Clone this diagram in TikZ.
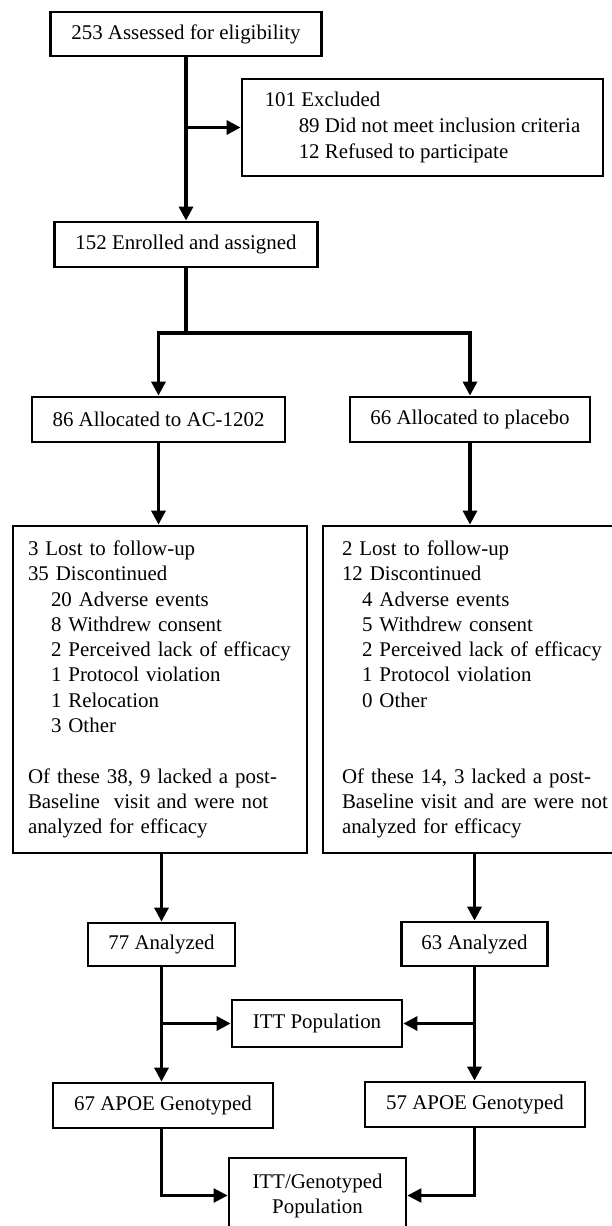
\documentclass[tikz,border=0pt]{standalone}
\usepackage{fontspec}
\setmainfont{Liberation Serif}
\usetikzlibrary{arrows.meta}

\begin{document}
\begin{tikzpicture}[x=1pt,y=-1pt,
    box/.style={draw, line width=2.8pt, inner sep=0pt, align=center,
      font=\fontsize{20.9}{25}\selectfont},
    listbox/.style={draw, line width=2.8pt, align=left, inner ysep=0pt,
      font=\fontsize{20.9}{25.3}\selectfont},
    flow/.style={line width=3.2pt, -{Triangle[length=14pt,width=14pt]}},
    thinflow/.style={line width=2.4pt, -{Triangle[length=14pt,width=14pt]}}]
  \useasboundingbox (0,0) rectangle (611,1226);

  % Screening
  \node[box, minimum width=271pt, minimum height=44pt] (assess) at (186,34) {253 Assessed for eligibility};
  \node[box, align=left, minimum width=361pt, minimum height=97pt,
    font=\fontsize{20.9}{26}\selectfont] (excl) at (422.5,127.5)
    {101 Excluded\\\hspace*{34pt}89 Did not meet inclusion criteria\\\hspace*{34pt}12 Refused to participate};
  \node[box, minimum width=263pt, minimum height=45pt] (enrol) at (186,244.5) {152 Enrolled and assigned};

  % Allocation
  \node[box, minimum width=253pt, minimum height=45pt] (allocA) at (158.5,419.5) {86 Allocated to AC-1202};
  \node[box, minimum width=240pt, minimum height=45pt] (allocP) at (470,419.5) {66 Allocated to placebo};

  % Follow-up
  \node[listbox, text width=264pt, inner xsep=15pt, minimum height=327pt] (lostA) at (160,689.5)
    {3 Lost to follow-up\\
     35 Discontinued\\
     \hspace*{23pt}20 Adverse events\\
     \hspace*{23pt}8 Withdrew consent\\
     \hspace*{23pt}2 Perceived lack of efficacy\\
     \hspace*{23pt}1 Protocol violation\\
     \hspace*{23pt}1 Relocation\\
     \hspace*{23pt}3 Other\\[25.3pt]
     Of these 38, 9 lacked a post-\\
     Baseline~ visit and were not\\
     analyzed for efficacy};
  \node[listbox, text width=270pt, inner xsep=19pt, minimum height=327pt] (lostP) at (477,689.5)
    {2 Lost to follow-up\\
     12 Discontinued\\
     \hspace*{20pt}4 Adverse events\\
     \hspace*{20pt}5 Withdrew consent\\
     \hspace*{20pt}2 Perceived lack of efficacy\\
     \hspace*{20pt}1 Protocol violation\\
     \hspace*{20pt}0 Other\\[50.6pt]
     Of these 14, 3 lacked a post-\\
     Baseline visit and are were not\\
     analyzed for efficacy};

  % Analysis
  \node[box, minimum width=147pt, minimum height=43pt] (anaA) at (161.5,944.5) {77 Analyzed};
  \node[box, minimum width=146pt, minimum height=44pt] (anaP) at (474.5,944) {63 Analyzed};
  \node[box, minimum width=170pt, minimum height=47pt] (itt) at (317,1023.5) {ITT Population};
  \node[box, minimum width=220pt, minimum height=45pt] (apoeA) at (163,1105.5) {67 APOE Genotyped};
  \node[box, minimum width=220pt, minimum height=45pt] (apoeP) at (475,1104.5) {57 APOE Genotyped};
  \node[box, minimum width=177pt, minimum height=75pt] (ittg) at (317.5,1195.5) {ITT/Genotyped\\Population};

  % Connectors
  \draw[flow] (assess.south) -- (enrol.north);
  \draw[flow] (assess.south |- excl.west) -- (excl.west);
  \coordinate (split) at (186,333);
  \draw[line width=3.2pt] (enrol.south) -- (split);
  \draw[flow] (split) -| (allocA.north);
  \draw[flow] (split) -| (allocP.north);
  \draw[flow] (allocA.south) -- (allocA.south |- lostA.north);
  \draw[flow] (allocP.south) -- (allocP.south |- lostP.north);
  \draw[flow] (lostA.south -| anaA) -- (anaA.north);
  \draw[flow] (lostP.south -| anaP) -- (anaP.north);
  \draw[flow] (anaA.south) -- (anaA.south |- apoeA.north);
  \draw[flow] (anaP.south) -- (anaP.south |- apoeP.north);
  \draw[flow] (anaA.south |- itt.west) -- (itt.west);
  \draw[flow] (anaP.south |- itt.east) -- (itt.east);
  \draw[thinflow] (apoeA.south -| anaA) |- (ittg.west);
  \draw[thinflow] (apoeP.south -| anaP) |- (ittg.east);
\end{tikzpicture}
\end{document}
